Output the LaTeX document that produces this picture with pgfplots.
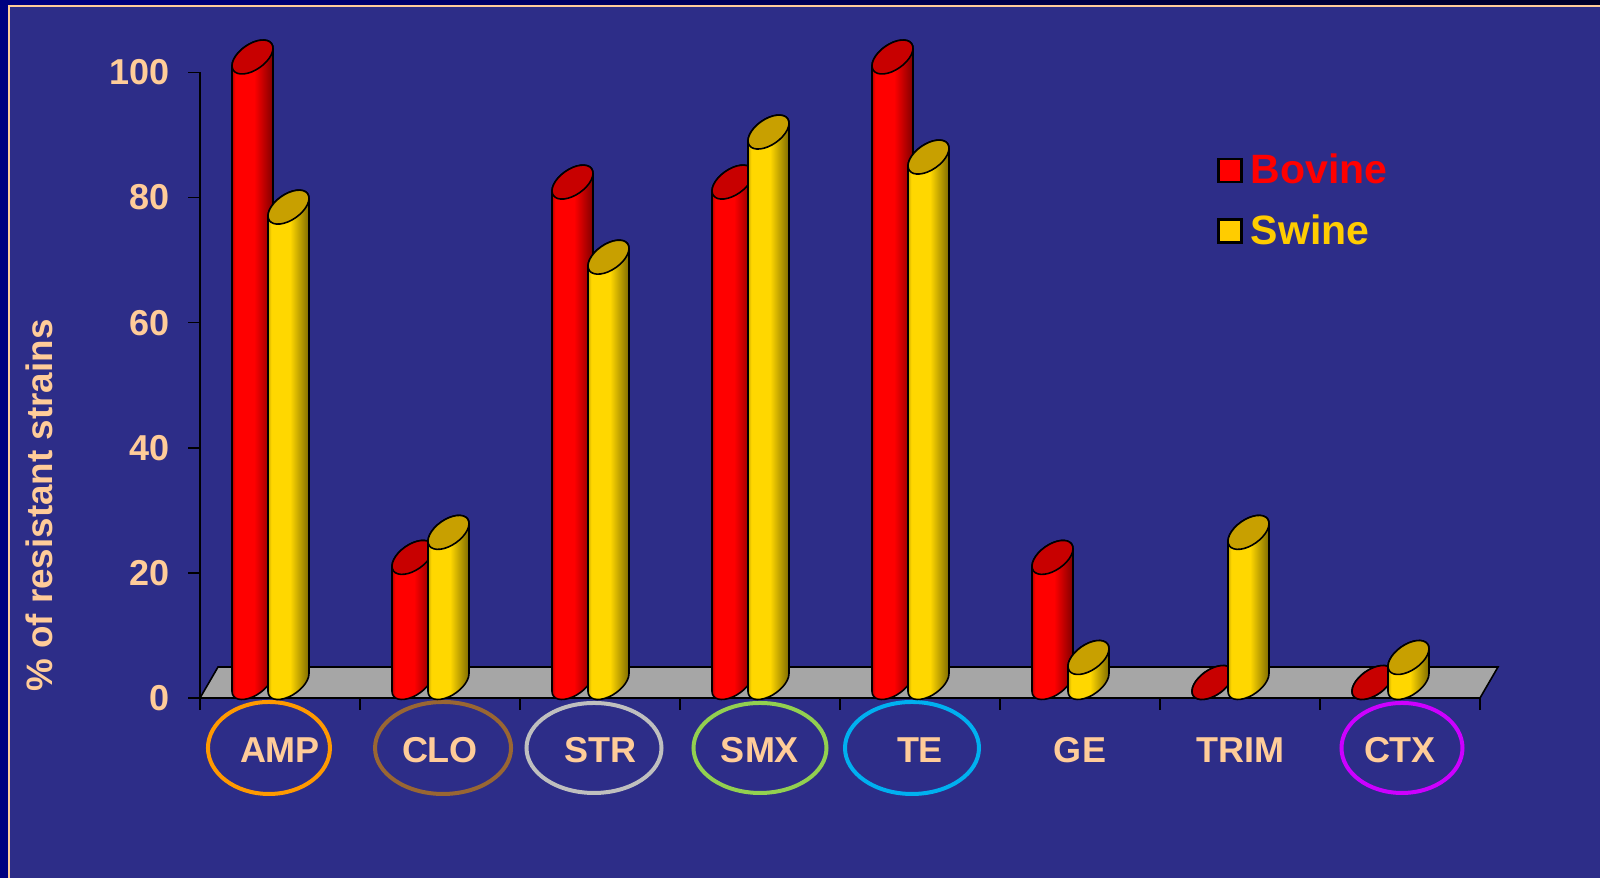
\documentclass[border=0pt]{standalone}
\usepackage{pgfplots}
\pgfplotsset{compat=1.18}
\usepackage{pgfplotstable}
\usepackage{fontspec}
\setmainfont{Liberation Sans}

\definecolor{bgblue}{HTML}{2D2D88}
\definecolor{navy}{HTML}{000080}
\definecolor{navydark}{HTML}{00002A}
\definecolor{peach}{HTML}{FFCC99}
\definecolor{swinetxt}{HTML}{FFCC00}
\definecolor{floorgray}{HTML}{A6A6A6}
\definecolor{redtop}{HTML}{C80000}
\definecolor{yelbar}{HTML}{FFD700}
\definecolor{yeltop}{HTML}{C8A000}
\definecolor{cAMP}{HTML}{FF9900}
\definecolor{cCLO}{HTML}{996633}
\definecolor{cSTR}{HTML}{BFBFBF}
\definecolor{cSMX}{HTML}{92D050}
\definecolor{cTE}{HTML}{00B0F0}
\definecolor{cCTX}{HTML}{CC00FF}

\pgfdeclarehorizontalshading{redcyl}{100bp}{color(0bp)=(red!72!black); color(25bp)=(red!72!black); color(29bp)=(red); color(52bp)=(red); color(75bp)=(red!50!black); color(100bp)=(red!50!black)}
\pgfdeclarehorizontalshading{yelcyl}{100bp}{color(0bp)=(yelbar!80!black); color(25bp)=(yelbar!80!black); color(29bp)=(yelbar); color(52bp)=(yelbar); color(75bp)=(yelbar!50!black); color(100bp)=(yelbar!50!black)}

\pgfdeclareplotmark{nothing}{}

\pgfplotstableread{
x bov swi
0 100 76
1 20 24
2 80 68
3 80 88
4 100 84
5 20 4
6 0 24
7 0 4
}\datatab

% cylinder drawn at the data point: #1 = horizontal offset (pt), #2 = side shading, #3 = top colour
\newcommand\drawcyl[3]{%
  \begingroup
  \pgfkeys{/pgf/fpu=true,/pgf/fpu/output format=fixed}%
  \pgfmathparse{\rawy*3.1275}\edef\hh{\pgfmathresult}%
  \pgfkeys{/pgf/fpu=false}%
  \pgfmathsetmacro\xl{#1-10.25}%
  \pgfmathsetmacro\xr{#1+10.25}%
  \pgfmathsetmacro\ybl{7.75-\hh-4.39}%
  \path[shade, shading=#2, draw=black, line width=0.8pt, line join=round]
    (\xl pt,3.36pt) -- (\xl pt,\ybl pt)
    \pgfextra{\pgfpatharcaxes{159.08}{339.08}{\pgfqpoint{9.568pt}{6.699pt}}{\pgfqpoint{-3.659pt}{5.226pt}}}
    -- (\xr pt,12.14pt)
    \pgfextra{\pgfpatharcaxes{-20.92}{159.08}{\pgfqpoint{9.568pt}{6.699pt}}{\pgfqpoint{-3.659pt}{5.226pt}}}
    -- cycle;
  \path[fill=#3, draw=black, line width=0.8pt] (#1pt,7.75pt) ellipse [x radius=11.68pt, y radius=6.38pt, rotate=35];
  \endgroup
}

\begin{document}
\begin{tikzpicture}
\useasboundingbox (0,0) rectangle (800pt,439pt);
\fill[bgblue] (0,0) rectangle (800pt,439pt);
\shade[left color=navy, right color=navydark] (0,436.5pt) rectangle (800pt,439pt);
\fill[navy] (0,0) rectangle (4pt,439pt);
\draw[peach, line width=1pt] (4.5pt,0) -- (4.5pt,436pt) -- (800pt,436pt);

\begin{axis}[
  at={(100pt,90pt)}, anchor=south west,
  scale only axis, width=640pt, height=312.75pt,
  xmin=-0.5, xmax=7.5, ymin=0, ymax=100,
  axis x line*=bottom, axis y line*=left,
  axis line style={black, line width=0.8pt},
  xtick={-0.5,0.5,...,7.5},
  xticklabels={AMP,CLO,STR,SMX,TE,GE,TRIM,CTX,{}},
  ytick={0,20,...,100},
  tick align=outside, major tick length=6pt,
  tick style={black, line width=0.8pt},
  ticklabel style={font=\bfseries\fontsize{18}{20}\selectfont, text=peach},
  /pgf/number format/assume math mode=true,
  xticklabel style={anchor=center, xshift=40pt, yshift=-20pt},
  yticklabel style={xshift=-5.5pt},
  clip=false,
  legend style={draw=none, fill=none, at={(rel axis cs:0.7945,0.795)}, anchor=west,
    inner sep=0pt, row sep=10pt, font=\bfseries\fontsize{20.5}{23}\selectfont,
    nodes={inner sep=2pt}, /tikz/every odd column/.append style={column sep=2pt}},
  legend cell align=left,
]
\addplot[fill=floorgray, draw=black, line width=0.8pt, forget plot]
  coordinates {(-0.5,0) (7.5,0) (7.6125,4.95) (-0.3875,4.95)} -- cycle;

\addplot[scatter, only marks, mark=nothing,
  visualization depends on={rawy \as \rawy},
  scatter/@pre marker code/.code={\drawcyl{-13.75}{redcyl}{redtop}},
  scatter/@post marker code/.code={},
  legend image code/.code={\draw[fill=red, draw=black, line width=1.3pt] (0pt,-5.75pt) rectangle (11.5pt,5.75pt);}]
  table[x=x, y=bov] {\datatab};
\addlegendentry{\textcolor{red}{Bovine}}

\addplot[scatter, only marks, mark=nothing,
  visualization depends on={rawy \as \rawy},
  scatter/@pre marker code/.code={\drawcyl{4.25}{yelcyl}{yeltop}},
  scatter/@post marker code/.code={},
  legend image code/.code={\draw[fill=swinetxt, draw=black, line width=1.3pt] (0pt,-5.75pt) rectangle (11.5pt,5.75pt);}]
  table[x=x, y=swi] {\datatab};
\addlegendentry{\textcolor{swinetxt}{Swine}}

\draw[cAMP, line width=2pt] (axis cs:-0.069,-7.99) ellipse [x radius=30.5pt, y radius=23pt];
\draw[cCLO, line width=2pt] (axis cs:1.019,-7.99) ellipse [x radius=34pt, y radius=23pt];
\draw[cSTR, line width=2pt] (axis cs:1.9625,-7.99) ellipse [x radius=33.75pt, y radius=22.5pt];
\draw[cSMX, line width=2pt] (axis cs:3.0,-7.99) ellipse [x radius=33.25pt, y radius=22.5pt];
\draw[cTE, line width=2pt] (axis cs:3.95,-7.99) ellipse [x radius=33.5pt, y radius=23pt];
\draw[cCTX, line width=2pt] (axis cs:7.0125,-7.99) ellipse [x radius=30.25pt, y radius=22.5pt];

\node[rotate=90, anchor=center, text=peach, font=\bfseries\fontsize{18.4}{21}\selectfont]
  at (axis cs:-1.506,30.76) {\% of resistant strains};
\end{axis}
\end{tikzpicture}
\end{document}
